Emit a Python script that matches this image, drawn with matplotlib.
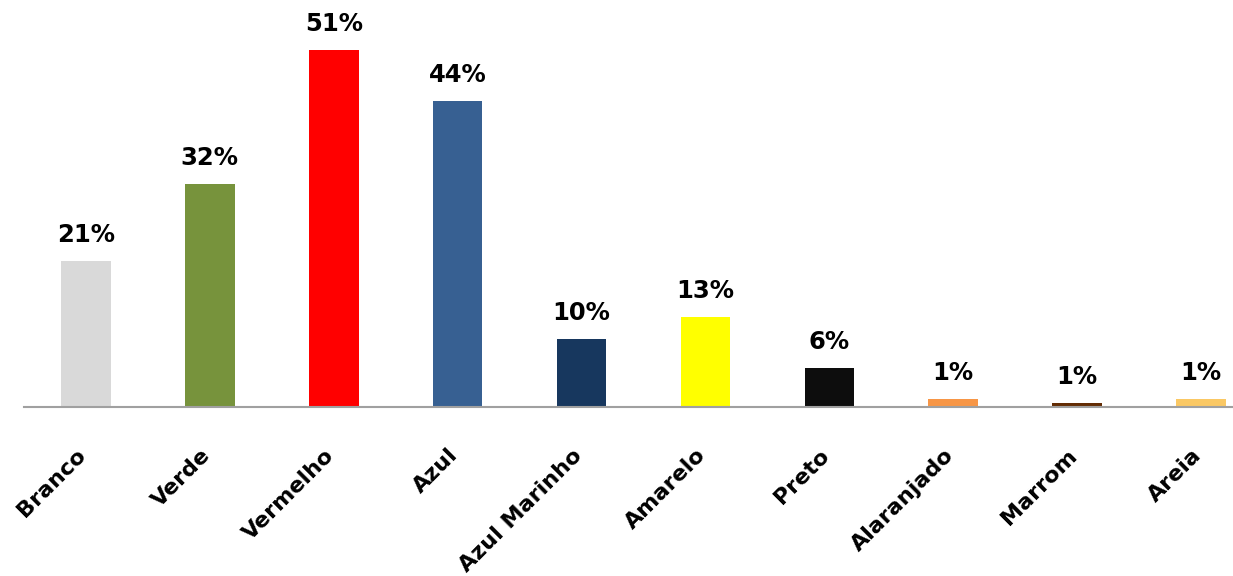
import matplotlib
matplotlib.use("Agg")
import matplotlib.pyplot as plt
from matplotlib.transforms import ScaledTranslation

categories = ["Branco", "Verde", "Vermelho", "Azul", "Azul Marinho", "Amarelo",
              "Preto", "Alaranjado", "Marrom", "Areia"]
values = [20.9, 31.9, 51.0, 43.7, 9.7, 12.9, 5.6, 1.1, 0.6, 1.1]
labels = ["21%", "32%", "51%", "44%", "10%", "13%", "6%", "1%", "1%", "1%"]
colors = ["#d9d9d9", "#77933c", "#ff0000", "#376092", "#17375e", "#ffff00",
          "#0d0d0d", "#f79646", "#632c04", "#fac864"]

W, H = 1233, 576
fig = plt.figure(figsize=(W / 100, H / 100), dpi=100)
left_px, base_px, cat_px, pct_px = 24, 407, 123.9, 7.0
ymax = 55
ax = fig.add_axes([left_px / W, (H - base_px) / H, cat_px * 10 / W, ymax * pct_px / H])

x = list(range(len(categories)))
bars = ax.bar(x, values, width=0.4, color=colors)
for xi, v, lab in zip(x, values, labels):
    ax.annotate(lab, (xi, v), xytext=(0, 10), textcoords="offset points",
                ha="center", va="bottom", fontsize=17.5, fontweight="bold",
                family="DejaVu Sans", color="black")

ax.set_xlim(-0.5, 9.5)
ax.set_ylim(0, ymax)
ax.set_yticks([])
ax.set_xticks(x)
ax.set_xticklabels(categories, rotation=45, ha="right", va="top",
                   rotation_mode="anchor", fontsize=16, fontweight="bold")
ax.tick_params(axis="x", length=0, pad=26)
offset = ScaledTranslation(-10 / 100, -2 / 100, fig.dpi_scale_trans)
for t in ax.get_xticklabels():
    t.set_transform(t.get_transform() + offset)
for s in ["top", "right", "left"]:
    ax.spines[s].set_visible(False)
ax.spines["bottom"].set_color("#a0a0a0")
ax.spines["bottom"].set_linewidth(1.5)
ax.patch.set_alpha(0)

fig.savefig("out.png", dpi=100, facecolor="white")
